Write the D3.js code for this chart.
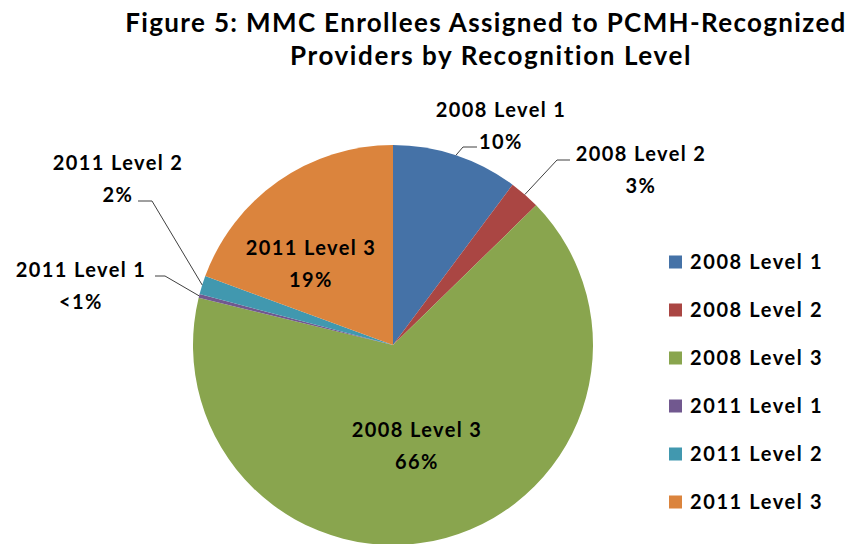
<!DOCTYPE html>
<html>
<head>
<meta charset="utf-8">
<script src="https://cdn.jsdelivr.net/npm/d3@7"></script>
<style>
  body { margin: 0; background: #fff; }
  svg text { font-family: Lato, "Open Sans", sans-serif; font-weight: bold; fill: #000; }
</style>
</head>
<body>
<svg id="chart" width="863" height="544"></svg>
<script>
const categories = ["2008 Level 1", "2008 Level 2", "2008 Level 3", "2011 Level 1", "2011 Level 2", "2011 Level 3"];
const shares = [10.2, 2.5, 66.1, 0.3, 1.5, 19.4];
const shareLabels = ["10%", "3%", "66%", "<1%", "2%", "19%"];
const colors = ["#4572A7", "#AA4643", "#89A54E", "#71588F", "#4198AF", "#DB843D"];
const titleLines = ["Figure 5: MMC Enrollees Assigned to PCMH-Recognized", "Providers by Recognition Level"];

// label placement per slice: text anchor point, and leader bend (null = label inside slice)
const labelSpots = [
  { x: 501, y: 110, bend: [463, 147], end: [477, 147] },
  { x: 641, y: 154, bend: [557, 160], end: [570, 160] },
  { x: 417, y: 430, bend: null },
  { x: 81, y: 270, bend: [165, 276], end: [155, 276] },
  { x: 118, y: 163, bend: [152, 201], end: [138, 201] },
  { x: 311, y: 248, bend: null }
];

const CX = 393;
const CY = 345;
const RADIUS = 200;

const svg = d3.select("#chart");

svg.append("g")
  .selectAll("text")
  .data(titleLines)
  .join("text")
  .attr("x", (d, i) => (i === 0 ? 486 : 491))
  .attr("y", (d, i) => 32 + i * 33)
  .attr("text-anchor", "middle")
  .attr("font-size", 26)
  .attr("letter-spacing", (d, i) => (i === 0 ? 1.35 : 1.6))
  .text((d) => d);

const pie = d3.pie().sort(null).value((d) => d)(shares);
const arc = d3.arc().innerRadius(0).outerRadius(RADIUS);

const g = svg.append("g").attr("transform", `translate(${CX},${CY})`);

g.selectAll("path")
  .data(pie)
  .join("path")
  .attr("d", arc)
  .attr("fill", (d, i) => colors[i]);

// leader lines for the outside labels
pie.forEach((d, i) => {
  const spot = labelSpots[i];
  if (!spot.bend) return;
  const mid = (d.startAngle + d.endAngle) / 2;
  const ax = CX + RADIUS * Math.sin(mid);
  const ay = CY - RADIUS * Math.cos(mid);
  svg.append("polyline")
    .attr("points", [[ax, ay], spot.bend, spot.end].map((p) => p.join(",")).join(" "))
    .attr("fill", "none")
    .attr("stroke", "#404040")
    .attr("stroke-width", 1);
});

const labels = svg.append("g")
  .selectAll("text")
  .data(labelSpots)
  .join("text")
  .attr("x", (d) => d.x)
  .attr("y", (d) => d.y)
  .attr("text-anchor", "middle")
  .attr("font-size", 20)
  .attr("letter-spacing", 1.4);

labels.append("tspan")
  .attr("x", (d) => d.x)
  .attr("dy", "0.35em")
  .text((d, i) => categories[i]);

labels.append("tspan")
  .attr("x", (d) => d.x)
  .attr("dy", 32)
  .text((d, i) => shareLabels[i]);

// legend
const legendY = d3.scalePoint().domain(categories).range([262, 502]);

const legend = svg.append("g")
  .selectAll("g")
  .data(categories)
  .join("g")
  .attr("transform", (d) => `translate(669,${legendY(d)})`);

legend.append("rect")
  .attr("x", 0)
  .attr("y", -6.5)
  .attr("width", 13)
  .attr("height", 13)
  .attr("fill", (d, i) => colors[i]);

legend.append("text")
  .attr("x", 21)
  .attr("dy", "0.35em")
  .attr("font-size", 20)
  .attr("letter-spacing", 1.6)
  .text((d) => d);
</script>
</body>
</html>
